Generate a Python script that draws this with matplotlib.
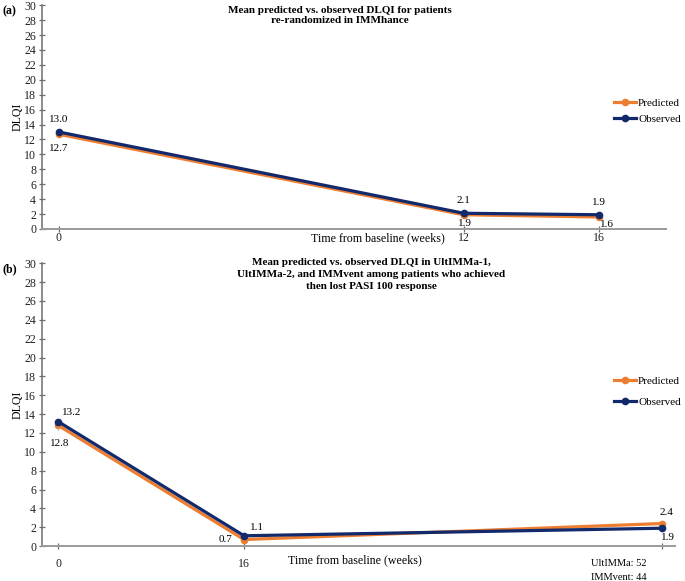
import matplotlib
matplotlib.use("Agg")
import matplotlib.pyplot as plt

plt.rcParams['font.family'] = ['Liberation Serif', 'DejaVu Serif']
plt.rcParams['font.size'] = 8

# Panel (a) data
weeks_a = [0, 12, 16]
pred_a = [12.7, 1.9, 1.6]
obs_a = [13.0, 2.1, 1.9]
ticklabels_a = ['0', '12', '16']

# Panel (b) data
weeks_b = [0, 16, 52]
pred_b = [12.8, 0.7, 2.4]
obs_b = [13.2, 1.1, 1.9]
ticklabels_b = ['0', '16', '']
last_tick_b = 'UltIMMa: 52\nIMMvent: 44'

ORANGE = '#ED7D31'
NAVY = '#12296B'
GREY_Y = '#6E6E6E'
GREY_X = '#9A9A9A'

fig = plt.figure(figsize=(6.85, 5.81), dpi=100)
ax_a = fig.add_axes([0.0613, 0.606, 0.911, 0.385])
ax_b = fig.add_axes([0.0613, 0.060, 0.924, 0.487])


def style_axis(ax, weeks, labels, xlim, xpad):
    ax.set_xlim(*xlim)
    ax.set_ylim(0, 30)
    ax.set_yticks(range(0, 31, 2))
    ax.set_xticks(weeks)
    ax.set_xticklabels(labels)
    for s in ['top', 'right']:
        ax.spines[s].set_visible(False)
    ax.spines['left'].set_color(GREY_Y)
    ax.spines['bottom'].set_color(GREY_X)
    ax.spines['left'].set_linewidth(1.1)
    ax.spines['bottom'].set_linewidth(1.4)
    ax.tick_params(axis='both', direction='inout', length=4.5, width=0.9,
                   labelsize=8.6, labelcolor='#222222')
    ax.tick_params(axis='y', color=GREY_Y, pad=2)
    ax.tick_params(axis='x', color=GREY_Y, pad=xpad)
    ax.set_ylabel('DLQI', fontsize=8.6, labelpad=0)


def draw_lines(ax, weeks, pred, obs):
    ax.plot(weeks, pred, color=ORANGE, lw=2.3, marker='o', ms=4.5,
            label='Predicted', zorder=3, clip_on=False)
    ax.plot(weeks, obs, color=NAVY, lw=2.3, marker='o', ms=4.5,
            label='Observed', zorder=4, clip_on=False)


# ---- panel (a)
style_axis(ax_a, weeks_a, ticklabels_a, (-0.5, 18.0), 0)
draw_lines(ax_a, weeks_a, pred_a, obs_a)

offs_obs_a = [(0, 9), (0, 9), (0, 9)]
offs_pred_a = [(0, -10), (1, -6.5), (6, -5.5)]
for x, p, o, oo, op in zip(weeks_a, pred_a, obs_a, offs_obs_a, offs_pred_a):
    ax_a.annotate(f'{o:.1f}', (x, o), xytext=oo, textcoords='offset points',
                  ha='center', va='center')
    ax_a.annotate(f'{p:.1f}', (x, p), xytext=op, textcoords='offset points',
                  ha='center', va='center')

ax_a.text(0.478, 0.998, 'Mean predicted vs. observed DLQI for patients\nre-randomized in IMMhance',
          transform=ax_a.transAxes, ha='center', va='top', fontweight='bold',
          fontsize=8, linespacing=1.15)
ax_a.text(0.538, -0.015, 'Time from baseline (weeks)', transform=ax_a.transAxes,
          ha='center', va='top', fontsize=8.6)
ax_a.legend(loc='upper left', bbox_to_anchor=(0.917, 0.585), frameon=False,
            borderaxespad=0, borderpad=0, handlelength=2.0, handletextpad=0.15,
            labelspacing=0.6, fontsize=8)
fig.text(0.003, 0.981, '(a)', fontweight='bold', fontsize=8.5, va='center')

# ---- panel (b)
style_axis(ax_b, weeks_b, ticklabels_b, (-1.4, 53.1), 6)
draw_lines(ax_b, weeks_b, pred_b, obs_b)

ax_b.annotate(last_tick_b, (weeks_b[-1], 0), xytext=(-11, -9.5),
              textcoords='offset points', ha='right', va='top',
              fontsize=7.5, linespacing=1.6, annotation_clip=False)

offs_obs_b = [(3, 6.5), (9, 6), (3, 8)]
offs_pred_b = [(1, -13), (-13, 0), (3, 8)]
ax_b.annotate(f'{obs_b[0]:.1f}', (weeks_b[0], obs_b[0]), xytext=offs_obs_b[0],
              textcoords='offset points', ha='left', va='center')
ax_b.annotate(f'{pred_b[0]:.1f}', (weeks_b[0], pred_b[0]), xytext=offs_pred_b[0],
              textcoords='offset points', ha='center', va='center',
              arrowprops=dict(arrowstyle='-', color='#aaaaaa', lw=0.6,
                              shrinkA=4, shrinkB=1))
ax_b.annotate(f'{obs_b[1]:.1f}', (weeks_b[1], obs_b[1]), xytext=offs_obs_b[1],
              textcoords='offset points', ha='center', va='center')
ax_b.annotate(f'{pred_b[1]:.1f}', (weeks_b[1], pred_b[1]), xytext=offs_pred_b[1],
              textcoords='offset points', ha='center', va='center',
              arrowprops=dict(arrowstyle='-', color='#aaaaaa', lw=0.6,
                              shrinkA=6, shrinkB=2))
ax_b.annotate(f'{pred_b[2]:.1f}', (weeks_b[2], pred_b[2]), xytext=offs_pred_b[2],
              textcoords='offset points', ha='center', va='center')
ax_b.annotate(f'{obs_b[2]:.1f}', (weeks_b[2], obs_b[2]), xytext=(4, -7),
              textcoords='offset points', ha='center', va='center')

ax_b.text(0.52, 1.018, 'Mean predicted vs. observed DLQI in UltIMMa-1,\n'
          'UltIMMa-2, and IMMvent among patients who achieved\n'
          'then lost PASI 100 response',
          transform=ax_b.transAxes, ha='center', va='top', fontweight='bold',
          fontsize=8, linespacing=1.42)
ax_b.text(0.495, -0.03, 'Time from baseline (weeks)', transform=ax_b.transAxes,
          ha='center', va='top', fontsize=8.6)
ax_b.legend(loc='upper left', bbox_to_anchor=(0.904, 0.6), frameon=False,
            borderaxespad=0, borderpad=0, handlelength=2.0, handletextpad=0.15,
            labelspacing=1.0, fontsize=8)
fig.text(0.003, 0.537, '(b)', fontweight='bold', fontsize=8.5, va='center')

fig.savefig('out.png', dpi=100)
